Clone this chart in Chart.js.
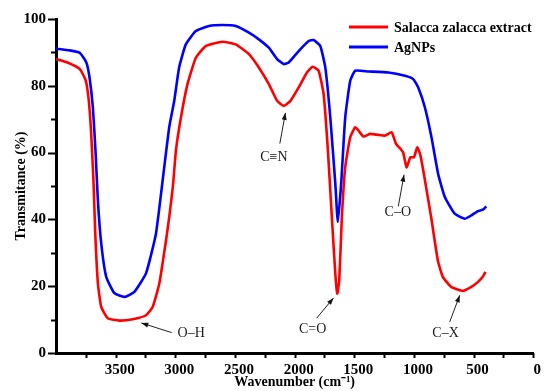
<!DOCTYPE html>
<html>
<head>
<meta charset="utf-8">
<script src="https://cdn.jsdelivr.net/npm/chart.js@4.4.1/dist/chart.umd.min.js"></script>
<style>
html,body{margin:0;padding:0;background:#fff;}
#wrap{width:545px;height:391px;position:relative;}
</style>
</head>
<body>
<div id="wrap"><canvas id="c" width="545" height="391"></canvas></div>
<script>
// ---- data (wavenumber cm-1, transmittance %) ----
const seriesNames = ['Salacca zalacca extract', 'AgNPs'];

const extractWn = [4000,3900,3800,3750,3725,3705,3685,3671,3649,3621,3566,3468,3357,3245,3190,3134,3078,3051,3020,2995,2953,2898,2828,2745,2606,2494,2383,2300,2216,2147,2091,2035,1966,1897,1849,1799,1757,1721,1688,1659,1643,1626,1604,1576,1534,1492,1465,1423,1367,1298,1242,1187,1150,1110,1090,1062,1030,1000,972,945,912,856,800,758,688,590,519,463,420,400];
const extractT  = [88,86.9,85,81.5,75.5,65.6,50.7,35.8,20.9,13.8,10.4,9.7,10.1,11.3,13.8,20.8,33.7,40.7,50,60.6,70.5,80.5,88.4,91.9,93.2,92.4,89.5,85.5,80.5,75.5,74,75.5,79.5,84,85.7,84.5,77.5,60.6,40.7,23.8,17.8,21.8,40.7,55.6,64.6,67.6,66.6,64.8,65.6,65.3,65.1,66.1,62.6,61,60,55.6,58.6,58.6,61.6,59.1,52.6,40.7,27.8,22.8,19.8,18.6,19.8,21.3,23,24.3];

const agWn = [4000,3886,3802,3746,3719,3691,3669,3649,3621,3579,3510,3426,3343,3245,3162,3093,3051,3009,2968,2912,2828,2717,2606,2494,2383,2300,2216,2147,2091,2049,1966,1882,1841,1785,1743,1701,1659,1638,1610,1576,1534,1492,1381,1215,1075,1006,964,908,853,797,741,658,574,519,463,422,394];
const agT  = [91.1,90.6,89.9,87,82.5,73.5,60.6,45.7,32.8,22.8,17.9,16.8,18.3,23.9,35.8,55.6,67.6,75.5,85.5,92.4,96.4,97.9,98.2,97.9,95.9,93.9,91.4,88,86.5,87,90.4,93.4,93.7,91.9,85.5,70.5,50.7,39.2,50.7,70.5,81.5,84.5,84.3,84,83,82,79.5,73.5,64.6,53.6,46.7,41.7,40.2,41.2,42.5,42.9,43.9];

const xTickLabels = [0,500,1000,1500,2000,2500,3000,3500];
const yTickLabels = [0,20,40,60,80,100];

// band annotations: label, text position, arrow tail, arrow head (data units)
const bandLabels = ['O\u2013H', 'C\u2261N', 'C=O', 'C\u2013O', 'C\u2013X'];
const bandTextWn  = [2867, 2174, 1849, 1135, 735];
const bandTextT   = [5.9, 58.5, 7.2, 42.1, 6];
const bandTailWn  = [3030, 2124, 1816, 1131, 700];
const bandTailT   = [6.1, 62.7, 10.4, 43.9, 9.3];
const bandHeadWn  = [3285, 2077, 1674, 1083, 616];
const bandHeadT   = [9, 71.9, 16.5, 53.4, 17.3];

const toPts = (xs, ys) => xs.map((x, i) => ({x: x, y: ys[i]}));
const SERIF = '"Liberation Serif", "Times New Roman", serif';

const tickPlugin = {
  id: 'tickMarks',
  afterDraw(chart) {
    const ctx = chart.ctx, xs = chart.scales.x, ys = chart.scales.y;
    const ax = ys.right, ay = xs.top;
    ctx.save();
    ctx.strokeStyle = '#000';
    ctx.lineWidth = 2;
    for (let v = 0; v <= 100; v += 10) {
      const py = Math.round(ys.getPixelForValue(v)) + 0.5;
      const len = (v % 20 === 0) ? 8 : 5;
      ctx.beginPath(); ctx.moveTo(ax - len, py); ctx.lineTo(ax, py); ctx.stroke();
    }
    for (let w = 0; w < 4000; w += 250) {
      const px = Math.round(xs.getPixelForValue(w)) + 0.5;
      ctx.beginPath(); ctx.moveTo(px, ay); ctx.lineTo(px, ay + 5); ctx.stroke();
    }
    ctx.restore();
  }
};

const legendPlugin = {
  id: 'customLegend',
  afterDraw(chart) {
    const ctx = chart.ctx;
    ctx.save();
    ctx.font = 'bold 14px ' + SERIF;
    ctx.textBaseline = 'middle';
    ctx.textAlign = 'left';
    chart.data.datasets.forEach((ds, i) => {
      const y = 27 + i * 20;
      ctx.strokeStyle = ds.borderColor;
      ctx.lineWidth = 3;
      ctx.beginPath(); ctx.moveTo(349, y); ctx.lineTo(388, y); ctx.stroke();
      ctx.fillStyle = '#000';
      ctx.fillText(ds.label, 394, y + 1);
    });
    ctx.restore();
  }
};

const bandPlugin = {
  id: 'bandLabels',
  afterDraw(chart) {
    const ctx = chart.ctx, xs = chart.scales.x, ys = chart.scales.y;
    ctx.save();
    ctx.font = '14px ' + SERIF;
    ctx.textAlign = 'center';
    ctx.textBaseline = 'middle';
    bandLabels.forEach((lab, i) => {
      const tx = xs.getPixelForValue(bandTextWn[i]), ty = ys.getPixelForValue(bandTextT[i]);
      ctx.fillStyle = '#1a1a1a';
      ctx.fillText(lab, tx, ty);
      const x1 = xs.getPixelForValue(bandTailWn[i]), y1 = ys.getPixelForValue(bandTailT[i]);
      const x2 = xs.getPixelForValue(bandHeadWn[i]), y2 = ys.getPixelForValue(bandHeadT[i]);
      ctx.strokeStyle = '#222'; ctx.lineWidth = 1;
      ctx.beginPath(); ctx.moveTo(x1, y1); ctx.lineTo(x2, y2); ctx.stroke();
      const a = Math.atan2(y2 - y1, x2 - x1), L = 7, W = 2.5;
      ctx.fillStyle = '#111';
      ctx.beginPath();
      ctx.moveTo(x2, y2);
      ctx.lineTo(x2 - L * Math.cos(a) + W * Math.sin(a), y2 - L * Math.sin(a) - W * Math.cos(a));
      ctx.lineTo(x2 - L * Math.cos(a) - W * Math.sin(a), y2 - L * Math.sin(a) + W * Math.cos(a));
      ctx.closePath(); ctx.fill();
    });
    ctx.restore();
  }
};

new Chart(document.getElementById('c'), {
  type: 'scatter',
  data: {
    datasets: [
      {label: seriesNames[0], data: toPts(extractWn, extractT), borderColor: '#ff0000', backgroundColor: '#ff0000'},
      {label: seriesNames[1], data: toPts(agWn, agT), borderColor: '#0000ff', backgroundColor: '#0000ff'}
    ]
  },
  options: {
    responsive: false,
    animation: false,
    showLine: true,
    elements: {
      point: {radius: 0, hoverRadius: 0},
      line: {borderWidth: 2.6, tension: 0.15, fill: false}
    },
    layout: {padding: {top: 18, right: 9.5, left: 0, bottom: 0}},
    plugins: {legend: {display: false}, tooltip: {enabled: false}},
    scales: {
      x: {
        type: 'linear', reverse: true, min: 0, max: 4000,
        afterFit(s) { s.height = 38; },
        border: {display: true, color: '#000', width: 3},
        grid: {display: false, drawTicks: false, tickLength: 0},
        ticks: {
          stepSize: 500, padding: 8, labelOffset: 4, color: '#000', maxRotation: 0, autoSkip: false,
          font: {family: SERIF, size: 15, weight: 'bold'},
          callback: (v) => xTickLabels.includes(v) ? String(v) : ''
        },
        title: {display: true, text: 'Wavenumber (cm\u207B\u00B9)', color: '#000',
          font: {family: SERIF, size: 14, weight: 'bold'}, padding: {top: 0, bottom: 0}}
      },
      y: {
        type: 'linear', min: 0, max: 100,
        afterFit(s) { s.width = 56; },
        border: {display: true, color: '#000', width: 3},
        grid: {display: false, drawTicks: false, tickLength: 0},
        ticks: {
          stepSize: 20, padding: 10, color: '#000',
          font: {family: SERIF, size: 15, weight: 'bold'},
          callback: (v) => yTickLabels.includes(v) ? String(v) : ''
        },
        title: {display: true, text: 'Transmitance (%)', color: '#000',
          font: {family: SERIF, size: 14, weight: 'bold'}, padding: {top: 13, bottom: 0}}
      }
    }
  },
  plugins: [tickPlugin, legendPlugin, bandPlugin]
});
</script>
</body>
</html>
